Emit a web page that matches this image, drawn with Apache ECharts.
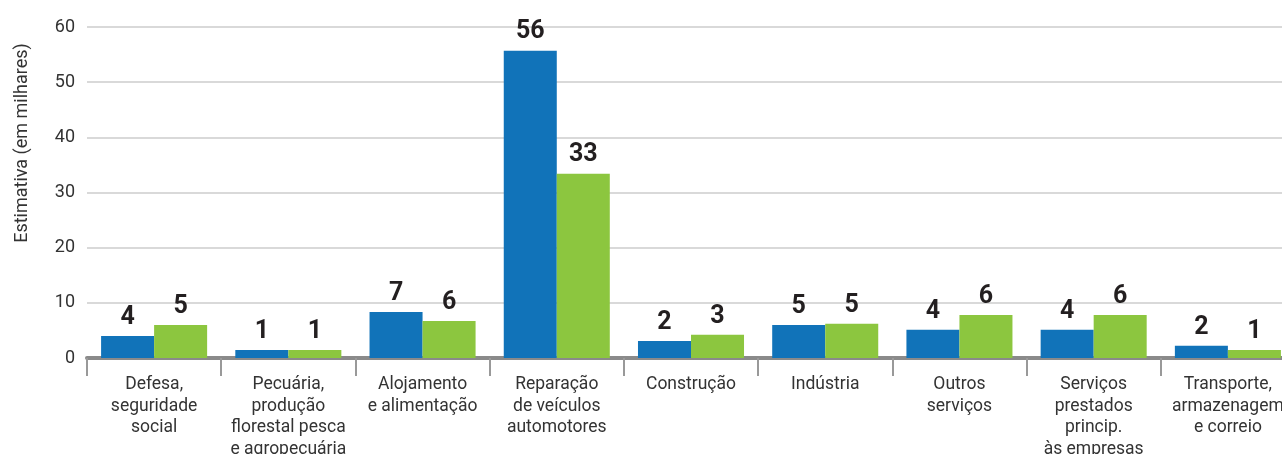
<!DOCTYPE html>
<html>
<head>
<meta charset="utf-8">
<script src="https://cdn.jsdelivr.net/npm/echarts@6/dist/echarts.min.js"></script>
<style>
  html, body { margin: 0; padding: 0; background: #fff; }
  #bar { width: 1282px; height: 454px; }
</style>
</head>
<body>
<div id="bar"></div>
<script>
// categorias do eixo x
const categories = [
    'Defesa,\nseguridade\nsocial',
    'Pecuária,\nprodução\nflorestal pesca\ne agropecuária',
    'Alojamento\ne alimentação',
    'Reparação\nde veículos\nautomotores',
    'Construção',
    'Indústria',
    'Outros\nserviços',
    'Serviços\nprestados\nprincip.\nàs empresas',
    'Transporte,\narmazenagem\ne correio'
];
// altura das barras
const blueValues  = [4.0, 1.45, 8.35, 55.7, 3.1, 6.0, 5.1, 5.1, 2.2];
const greenValues = [6.0, 1.45, 6.7, 33.4, 4.2, 6.2, 7.8, 7.8, 1.45];
// rótulos impressos sobre as barras
const blueLabels  = [4, 1, 7, 56, 2, 5, 4, 4, 2];
const greenLabels = [5, 1, 6, 33, 3, 5, 6, 6, 1];

const font = 'Roboto';
const myChart = echarts.init(document.getElementById('bar'));

function valueLabel(labels) {
    return {
        show: true,
        position: 'top',
        distance: 6,
        fontFamily: font,
        fontSize: 25,
        fontWeight: 'bold',
        color: '#231f20',
        formatter: p => labels[p.dataIndex]
    };
}

const option = {
    animation: false,
    grid: {
        left: 87,
        top: 27,
        right: -13,
        height: 331,
        outerBoundsMode: 'none',
        containLabel: false
    },
    xAxis: {
        type: 'category',
        data: categories,
        offset: 2,
        axisLine: {
            lineStyle: { color: '#8a8a8a', width: 4 }
        },
        axisTick: {
            show: true,
            alignWithLabel: false,
            length: 18,
            lineStyle: { color: '#999999', width: 2 }
        },
        axisLabel: {
            interval: 0,
            hideOverlap: false,
            margin: 14,
            fontFamily: font,
            fontSize: 17.5,
            lineHeight: 21.5,
            color: '#333333',
            verticalAlign: 'top'
        }
    },
    yAxis: {
        type: 'value',
        min: 0,
        max: 60,
        interval: 10,
        axisLine: { show: false },
        axisTick: { show: false },
        axisLabel: {
            margin: 12,
            fontFamily: font,
            fontSize: 18,
            color: '#333333'
        },
        splitLine: {
            lineStyle: { color: '#cccccc', width: 1.5 }
        }
    },
    graphic: [{
        type: 'text',
        x: 22,
        y: 143,
        rotation: Math.PI / 2,
        style: {
            text: 'Estimativa (em milhares)',
            fontFamily: font,
            fontSize: 18,
            fill: '#333333',
            align: 'center',
            verticalAlign: 'middle'
        }
    }],
    series: [
        {
            name: 'azul',
            type: 'bar',
            data: blueValues,
            barGap: '0%',
            barCategoryGap: '21%',
            itemStyle: { color: '#1173b9' },
            label: valueLabel(blueLabels)
        },
        {
            name: 'verde',
            type: 'bar',
            data: greenValues,
            itemStyle: { color: '#8cc63f' },
            label: valueLabel(greenLabels)
        }
    ]
};
myChart.setOption(option);
</script>
</body>
</html>
